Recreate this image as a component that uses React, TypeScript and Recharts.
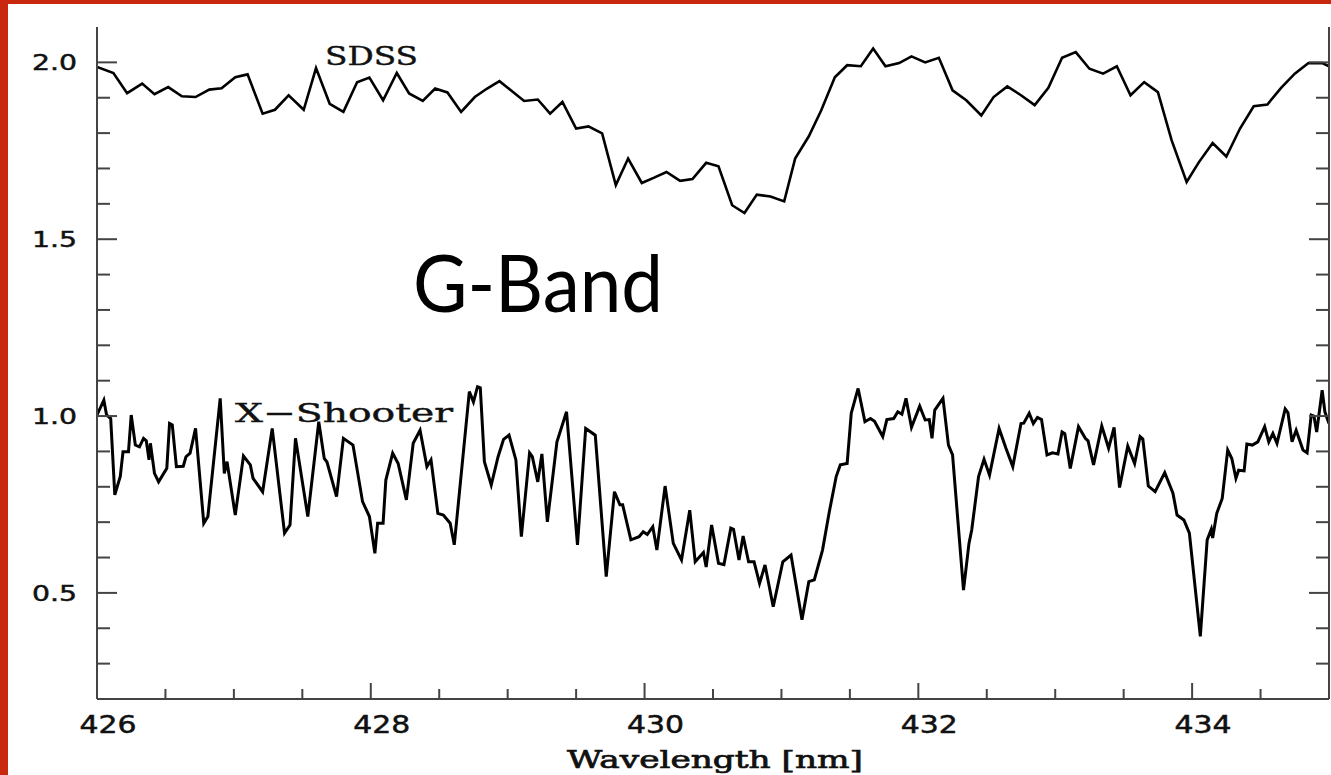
import React from "react";
import { LineChart, Line, XAxis, YAxis } from "recharts";

// [wavelength nm, normalised flux]
const sdssSpectrum: [number, number][] = [
  [426.0, 1.987], [426.12, 1.97], [426.22, 1.913], [426.33, 1.94], [426.42, 1.91],
  [426.52, 1.93], [426.62, 1.904], [426.72, 1.902], [426.82, 1.923], [426.91, 1.927],
  [427.01, 1.958], [427.1, 1.966], [427.21, 1.855], [427.3, 1.866], [427.4, 1.907],
  [427.51, 1.866], [427.6, 1.984], [427.7, 1.883], [427.8, 1.86], [427.9, 1.944],
  [427.99, 1.957], [428.09, 1.893], [428.19, 1.97], [428.28, 1.912], [428.38, 1.891],
  [428.47, 1.926], [428.56, 1.915], [428.66, 1.86], [428.76, 1.902], [428.85, 1.926],
  [428.94, 1.947], [429.03, 1.919], [429.12, 1.891], [429.22, 1.895], [429.31, 1.855],
  [429.4, 1.888], [429.5, 1.813], [429.59, 1.819], [429.69, 1.799], [429.79, 1.653],
  [429.88, 1.728], [429.98, 1.659], [430.07, 1.674], [430.16, 1.69], [430.26, 1.665],
  [430.35, 1.67], [430.45, 1.716], [430.54, 1.706], [430.64, 1.596], [430.73, 1.574],
  [430.82, 1.626], [430.92, 1.621], [431.02, 1.607], [431.1, 1.728], [431.2, 1.791],
  [431.29, 1.864], [431.39, 1.958], [431.48, 1.992], [431.58, 1.989], [431.67, 2.039],
  [431.76, 1.989], [431.86, 1.998], [431.95, 2.017], [432.05, 2.0], [432.15, 2.013],
  [432.25, 1.921], [432.35, 1.893], [432.46, 1.85], [432.55, 1.902], [432.65, 1.932],
  [432.75, 1.907], [432.85, 1.879], [432.95, 1.928], [433.05, 2.013], [433.15, 2.029],
  [433.25, 1.982], [433.35, 1.968], [433.45, 1.989], [433.55, 1.907], [433.65, 1.944],
  [433.75, 1.916], [433.85, 1.78], [433.96, 1.662], [434.05, 1.718], [434.15, 1.772],
  [434.25, 1.734], [434.35, 1.813], [434.45, 1.876], [434.55, 1.881], [434.65, 1.928],
  [434.75, 1.968], [434.85, 1.998], [434.95, 1.998], [435.0, 1.989],
];

const xshooterSpectrum: [number, number][] = [
  [426.0, 1.003], [426.05, 1.045], [426.07, 1.003], [426.1, 0.993], [426.13, 0.777],
  [426.17, 0.829], [426.19, 0.899], [426.23, 0.899], [426.25, 1.003], [426.28, 0.918],
  [426.31, 0.913], [426.34, 0.937], [426.36, 0.93], [426.38, 0.876], [426.39, 0.923],
  [426.42, 0.838], [426.45, 0.814], [426.51, 0.852], [426.53, 0.979], [426.55, 0.975],
  [426.58, 0.857], [426.63, 0.858], [426.65, 0.885], [426.68, 0.895], [426.72, 0.965],
  [426.78, 0.697], [426.81, 0.716], [426.9, 1.05], [426.93, 0.838], [426.95, 0.871],
  [427.01, 0.72], [427.07, 0.887], [427.12, 0.862], [427.14, 0.824], [427.21, 0.786],
  [427.28, 0.965], [427.37, 0.669], [427.41, 0.692], [427.45, 0.937], [427.54, 0.716],
  [427.62, 0.984], [427.66, 0.88], [427.68, 0.87], [427.75, 0.772], [427.8, 0.937],
  [427.87, 0.918], [427.94, 0.758], [427.99, 0.716], [428.03, 0.612], [428.05, 0.697],
  [428.09, 0.697], [428.11, 0.819], [428.16, 0.895], [428.2, 0.866], [428.26, 0.763],
  [428.31, 0.923], [428.36, 0.96], [428.41, 0.857], [428.44, 0.876], [428.49, 0.725],
  [428.53, 0.72], [428.58, 0.697], [428.61, 0.636], [428.72, 1.069], [428.75, 1.04],
  [428.78, 1.083], [428.8, 1.08], [428.83, 0.871], [428.88, 0.805], [428.93, 0.885],
  [428.97, 0.934], [429.01, 0.946], [429.06, 0.876], [429.1, 0.659], [429.16, 0.896],
  [429.18, 0.885], [429.22, 0.814], [429.25, 0.893], [429.29, 0.701], [429.36, 0.927],
  [429.43, 1.012], [429.51, 0.636], [429.57, 0.965], [429.64, 0.946], [429.72, 0.546],
  [429.78, 0.786], [429.82, 0.749], [429.84, 0.749], [429.9, 0.65], [429.96, 0.659],
  [429.99, 0.673], [430.02, 0.665], [430.06, 0.687], [430.09, 0.621], [430.15, 0.802],
  [430.21, 0.64], [430.27, 0.593], [430.33, 0.734], [430.37, 0.588], [430.43, 0.614],
  [430.45, 0.573], [430.49, 0.692], [430.54, 0.584], [430.58, 0.58], [430.63, 0.683],
  [430.65, 0.68], [430.69, 0.593], [430.72, 0.661], [430.76, 0.588], [430.8, 0.588],
  [430.84, 0.527], [430.88, 0.579], [430.94, 0.461], [431.01, 0.588], [431.07, 0.607],
  [431.15, 0.424], [431.2, 0.532], [431.24, 0.537], [431.3, 0.621], [431.35, 0.73],
  [431.4, 0.829], [431.43, 0.862], [431.48, 0.866], [431.51, 1.008], [431.56, 1.078],
  [431.61, 0.984], [431.65, 0.993], [431.68, 0.985], [431.74, 0.942], [431.77, 0.99],
  [431.82, 0.993], [431.85, 1.012], [431.88, 1.005], [431.91, 1.05], [431.95, 0.968],
  [432.01, 1.028], [432.05, 0.989], [432.08, 0.99], [432.1, 0.937], [432.12, 1.017],
  [432.18, 1.05], [432.22, 0.918], [432.25, 0.89], [432.33, 0.508], [432.37, 0.64],
  [432.39, 0.678], [432.44, 0.829], [432.48, 0.878], [432.52, 0.833], [432.59, 0.965],
  [432.64, 0.909], [432.69, 0.857], [432.75, 0.979], [432.77, 0.98], [432.81, 1.008],
  [432.84, 0.979], [432.87, 0.996], [432.9, 0.99], [432.94, 0.89], [432.98, 0.896],
  [433.02, 0.893], [433.05, 0.955], [433.07, 0.95], [433.11, 0.852], [433.17, 0.97],
  [433.22, 0.937], [433.24, 0.93], [433.28, 0.862], [433.34, 0.972], [433.39, 0.909],
  [433.43, 0.968], [433.47, 0.798], [433.53, 0.915], [433.58, 0.866], [433.62, 0.942],
  [433.64, 0.935], [433.68, 0.802], [433.73, 0.786], [433.8, 0.84], [433.86, 0.782],
  [433.89, 0.72], [433.94, 0.706], [433.98, 0.669], [434.06, 0.377], [434.11, 0.65],
  [434.14, 0.68], [434.15, 0.655], [434.18, 0.725], [434.22, 0.767], [434.26, 0.904],
  [434.29, 0.88], [434.32, 0.824], [434.34, 0.847], [434.38, 0.845], [434.4, 0.921],
  [434.44, 0.918], [434.48, 0.927], [434.53, 0.97], [434.56, 0.927], [434.59, 0.951],
  [434.62, 0.923], [434.68, 1.02], [434.7, 1.01], [434.73, 0.927], [434.76, 0.96],
  [434.81, 0.904], [434.84, 0.896], [434.87, 1.003], [434.89, 1.0], [434.91, 0.955],
  [434.95, 1.073], [434.97, 1.012], [435.0, 0.979],
];

const xMajorTicks = [426, 428, 430, 432, 434];
const xMinorTicks = [426.5, 427, 427.5, 428.5, 429, 429.5, 430.5, 431, 431.5, 432.5, 433, 433.5, 434.5];
const yMajorTicks = [0.5, 1.0, 1.5, 2.0];
const yMinorTicks = [0.3, 0.4, 0.6, 0.7, 0.8, 0.9, 1.1, 1.2, 1.3, 1.4, 1.6, 1.7, 1.8, 1.9];

const sdssData = sdssSpectrum.map(([w, f]) => ({ w, f }));
const xshooterData = xshooterSpectrum.map(([w, f]) => ({ w, f }));
const xTicks = [...xMajorTicks, ...xMinorTicks].sort((a, b) => a - b);
const yTicks = [...yMajorTicks, ...yMinorTicks].sort((a, b) => a - b);

const AXIS = "#444";
const RED = "#c8290e";
const numFont = "'DejaVu Sans', sans-serif";
const labelFont = "'DejaVu Serif', serif";

const BottomTick = (props: any) => {
  const { x, y, payload } = props;
  const major = xMajorTicks.includes(payload.value);
  return (
    <g>
      <line x1={x} y1={y} x2={x} y2={y - (major ? 16 : 10)} stroke={AXIS} strokeWidth={2} />
      {major && (
        <text x={x + 11} y={y + 34} textAnchor="middle" fontFamily={numFont} fontSize={24}
          fill="#111" stroke="#111" strokeWidth={0.5} textLength={57} lengthAdjust="spacingAndGlyphs">
          {payload.value}
        </text>
      )}
    </g>
  );
};

const TopTick = (props: any) => {
  const { x, y, payload } = props;
  const major = xMajorTicks.includes(payload.value);
  return <line x1={x} y1={y} x2={x} y2={y + (major ? 16 : 10)} stroke={AXIS} strokeWidth={2} />;
};

const LeftTick = (props: any) => {
  const { x, y, payload } = props;
  const major = yMajorTicks.includes(payload.value);
  return (
    <g>
      <line x1={x} y1={y} x2={x + (major ? 20 : 13)} y2={y} stroke={AXIS} strokeWidth={2} />
      {major && (
        <text x={x - 20} y={y + 8} textAnchor="end" fontFamily={numFont} fontSize={22}
          fill="#111" stroke="#111" strokeWidth={0.5} textLength={45} lengthAdjust="spacingAndGlyphs">
          {payload.value.toFixed(1)}
        </text>
      )}
    </g>
  );
};

const RightTick = (props: any) => {
  const { x, y, payload } = props;
  const major = yMajorTicks.includes(payload.value);
  return <line x1={x} y1={y} x2={x - (major ? 20 : 13)} y2={y} stroke={AXIS} strokeWidth={2} />;
};

export default function App() {
  const axisLine = { stroke: AXIS, strokeWidth: 2 };
  return (
    <div style={{ position: "absolute", left: 0, top: 0, width: 1331, height: 775, background: "#fff" }}>
      <LineChart width={1331} height={775} margin={{ top: 27, right: 0, bottom: 0, left: 0 }}>
        <XAxis xAxisId="b" dataKey="w" type="number" domain={[426, 435]} allowDataOverflow
          ticks={xTicks} interval={0} tickSize={0} tickMargin={0} tickLine={false}
          axisLine={axisLine} tick={<BottomTick />} height={76} />
        <XAxis xAxisId="t" orientation="top" dataKey="w" type="number" domain={[426, 435]} allowDataOverflow
          ticks={xTicks} interval={0} tickSize={0} tickMargin={0} tickLine={false}
          axisLine={axisLine} tick={<TopTick />} height={0} />
        <YAxis yAxisId="l" type="number" domain={[0.2, 2.1]} allowDataOverflow
          ticks={yTicks} interval={0} tickSize={0} tickMargin={0} tickLine={false}
          axisLine={axisLine} tick={<LeftTick />} width={97} />
        <YAxis yAxisId="r" orientation="right" type="number" domain={[0.2, 2.1]} allowDataOverflow
          ticks={yTicks} interval={0} tickSize={0} tickMargin={0} tickLine={false}
          axisLine={axisLine} tick={<RightTick />} width={2} />
        <Line xAxisId="b" yAxisId="l" data={sdssData} dataKey="f" type="linear" dot={false}
          stroke="#000" strokeWidth={2.6} isAnimationActive={false} />
        <Line xAxisId="b" yAxisId="l" data={xshooterData} dataKey="f" type="linear" dot={false}
          stroke="#000" strokeWidth={3} isAnimationActive={false} />
      </LineChart>
      <svg width={1331} height={775} style={{ position: "absolute", left: 0, top: 0, pointerEvents: "none" }}>
        <text x={325} y={65} fontFamily={labelFont} fontSize={26} fill="#111" stroke="#111" strokeWidth={0.4}
          textLength={93} lengthAdjust="spacingAndGlyphs">SDSS</text>
        <text x={235} y={422} fontFamily={labelFont} fontSize={26} fill="#111" stroke="#111" strokeWidth={0.4}
          textLength={218} lengthAdjust="spacingAndGlyphs">X−Shooter</text>
        <text x={413} y={312} fontFamily="Lato, sans-serif" fontSize={80} fill="#000"
          textLength={250} lengthAdjust="spacingAndGlyphs">G-Band</text>
        <text x={567} y={768} fontFamily={labelFont} fontSize={24} fill="#111" stroke="#111" strokeWidth={0.7}
          textLength={296} lengthAdjust="spacingAndGlyphs">Wavelength [nm]</text>
      </svg>
      <div style={{ position: "absolute", left: 0, top: 0, width: 8, height: 775, background: RED }} />
      <div style={{ position: "absolute", left: 0, top: 0, width: 1331, height: 4, background: RED }} />
    </div>
  );
}
